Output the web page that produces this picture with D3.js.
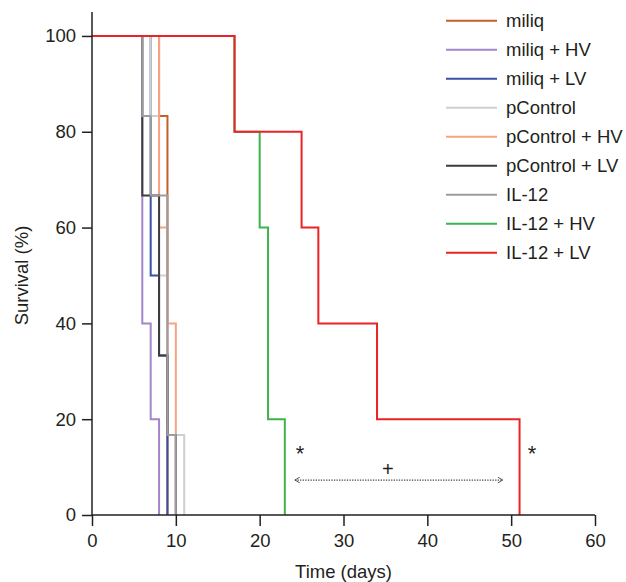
<!DOCTYPE html>
<html>
<head>
<meta charset="utf-8">
<script src="https://cdn.jsdelivr.net/npm/d3@7"></script>
<style>
  html, body { margin: 0; padding: 0; background: #fff; }
  svg { display: block; }
  text { font-family: "Liberation Sans", Arial, Helvetica, sans-serif; fill: #231f20; }
</style>
</head>
<body>
<svg id="chart" width="626" height="582"></svg>
<script>
// ---- data ----
const seriesNames = ["miliq", "miliq + HV", "miliq + LV", "pControl", "pControl + HV",
                     "pControl + LV", "IL-12", "IL-12 + HV", "IL-12 + LV"];
const seriesColors = ["#c2612c", "#a386c9", "#3a4fa6", "#cfcfcf", "#f6a283",
                      "#3c3c3c", "#9d9d9d", "#3cb44b", "#ec2227"];
// Kaplan–Meier step points: [day, survival %]
const miliq        = [[0,100],[8,83.3],[9,0]];
const miliqHV      = [[0,100],[6,40],[7,20],[8,0]];
const miliqLV      = [[0,100],[7,50],[8,33.3],[9,0]];
const pControl     = [[0,100],[7,83.3],[8,50],[9,16.7],[11,0]];
const pControlHV   = [[0,100],[8,60],[9,40],[10,0]];
const pControlLV   = [[0,100],[6,66.7],[8,33.3],[9,16.7],[10,0]];
const il12         = [[0,100],[6,83.3],[7,66.7],[9,16.7],[10,0]];
const il12HV       = [[0,100],[17,80],[20,60],[21,20],[23,0]];
const il12LV       = [[0,100],[17,80],[25,60],[27,40],[34,20],[51,0]];
const seriesData = [miliq, miliqHV, miliqLV, pControl, pControlHV, pControlLV, il12, il12HV, il12LV];

const xTicks = [0, 10, 20, 30, 40, 50, 60];
const yTicks = [0, 20, 40, 60, 80, 100];
const xLabel = "Time (days)";
const yLabel = "Survival (%)";

// annotations (data units)
const starMarks = [[24.8, 13.6], [52.5, 13.6]];
const plusMark = [35.3, 9.6];
const arrowSpan = [24.2, 49.0];
const arrowLevel = 7.3;

// ---- drawing ----
const FS = 18.5;
const svg = d3.select("#chart");
const x = d3.scaleLinear().domain([0, 60]).range([92, 595]);
const y = d3.scaleLinear().domain([0, 105]).range([515, 12]);

const defs = svg.append("defs");
["start", "end"].forEach(k => {
  defs.append("marker")
    .attr("id", "arr-" + k)
    .attr("viewBox", "0 0 10 10")
    .attr("refX", k === "end" ? 9 : 1).attr("refY", 5)
    .attr("markerWidth", 7).attr("markerHeight", 7)
    .attr("markerUnits", "userSpaceOnUse")
    .attr("orient", "auto")
    .append("path")
    .attr("d", k === "end" ? "M2,1 L9,5 L2,9" : "M8,1 L1,5 L8,9")
    .attr("fill", "none").attr("stroke", "#444").attr("stroke-width", 1.3);
});

// series
const line = d3.line().x(d => x(d[0])).y(d => y(d[1])).curve(d3.curveStepAfter);
seriesData.forEach((pts, i) => {
  svg.append("path")
    .attr("d", line(pts))
    .attr("fill", "none")
    .attr("stroke", seriesColors[i])
    .attr("stroke-width", 2);
});

// axes
const xAxis = d3.axisBottom(x).tickValues(xTicks).tickSize(11).tickSizeOuter(0).tickPadding(8);
const gx = svg.append("g").attr("transform", `translate(0,${y(0)})`).call(xAxis);
gx.select(".domain").remove();
gx.selectAll(".tick line").attr("stroke", "#231f20").attr("stroke-width", 1.5);
gx.selectAll(".tick text").attr("font-size", FS).style("fill", "#231f20");

const yAxis = d3.axisLeft(y).tickValues(yTicks).tickSize(10).tickSizeOuter(0).tickPadding(6);
const gy = svg.append("g").attr("transform", `translate(${x(0)},0)`).call(yAxis);
gy.select(".domain").remove();
gy.selectAll(".tick line").attr("stroke", "#231f20").attr("stroke-width", 1.5);
gy.selectAll(".tick text").attr("font-size", FS).style("fill", "#231f20");

svg.append("line")
  .attr("x1", x(0)).attr("x2", x(60)).attr("y1", y(0)).attr("y2", y(0))
  .attr("stroke", "#231f20").attr("stroke-width", 1.5);
svg.append("line")
  .attr("x1", x(0)).attr("x2", x(0)).attr("y1", y(0)).attr("y2", y(105))
  .attr("stroke", "#231f20").attr("stroke-width", 1.5);

// axis labels
svg.append("text").attr("x", (x(0) + x(60)) / 2).attr("y", 578)
  .attr("text-anchor", "middle").attr("font-size", FS).text(xLabel);
svg.append("text")
  .attr("transform", `translate(28,${y(50)}) rotate(-90)`)
  .attr("text-anchor", "middle").attr("font-size", FS).text(yLabel);

// annotations
starMarks.forEach(s => {
  svg.append("text").attr("x", x(s[0])).attr("y", y(s[1]) + 11)
    .attr("text-anchor", "middle").attr("font-size", 22).text("*");
});
svg.append("text").attr("x", x(plusMark[0])).attr("y", y(plusMark[1]) + 7)
  .attr("text-anchor", "middle").attr("font-size", 20).text("+");
svg.append("line")
  .attr("x1", x(arrowSpan[0])).attr("x2", x(arrowSpan[1]))
  .attr("y1", y(arrowLevel)).attr("y2", y(arrowLevel))
  .attr("stroke", "#444").attr("stroke-width", 1.3)
  .attr("stroke-dasharray", "1.3,1.3")
  .attr("marker-start", "url(#arr-start)")
  .attr("marker-end", "url(#arr-end)");

// legend
const leg = svg.append("g");
seriesNames.forEach((name, i) => {
  const yy = 20.7 + i * 29;
  leg.append("line").attr("x1", 446).attr("x2", 497).attr("y1", yy).attr("y2", yy)
    .attr("stroke", seriesColors[i]).attr("stroke-width", 2);
  leg.append("text").attr("x", 506).attr("y", yy + 6.5).attr("font-size", FS).text(name);
});
</script>
</body>
</html>
